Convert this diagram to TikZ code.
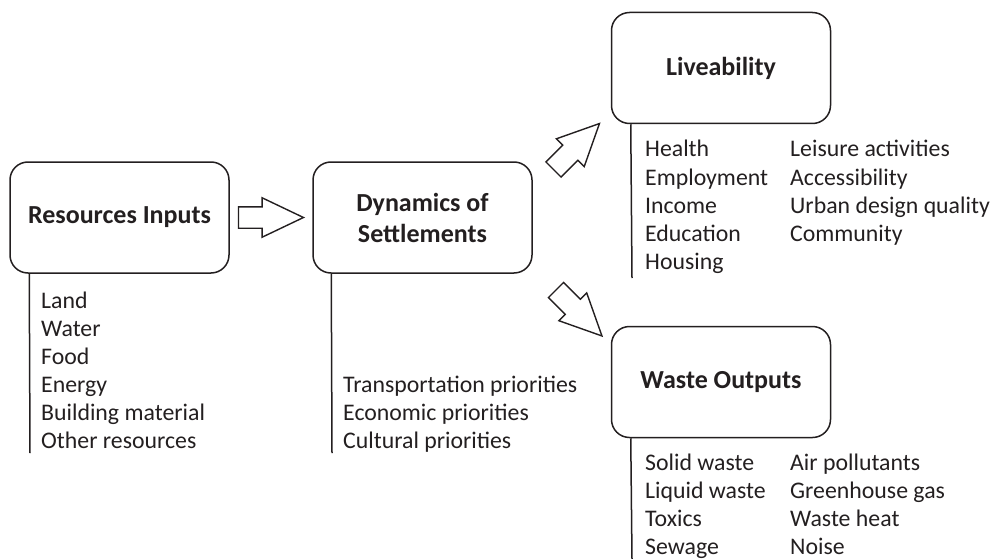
\documentclass[tikz,border=0pt]{standalone}
\usepackage{fontspec}
\setmainfont{Carlito}
\usetikzlibrary{shapes.arrows,calc}
\definecolor{ink}{HTML}{231F20}
\tikzset{
  box/.style={draw=ink, line width=1.5pt, rounded corners=18pt,
    minimum width=219pt, minimum height=111pt, align=center, text=ink,
    font=\bfseries\fontsize{26}{31}\selectfont},
  item/.style={anchor=base west, inner sep=0pt, text=ink,
    font=\fontsize{23.8}{28}\selectfont},
  fatarrow/.style={single arrow, draw=ink, line width=1.4pt, anchor=tail,
    inner xsep=0pt, inner ysep=10pt, minimum height=65pt, minimum width=38pt,
    single arrow head extend=9pt, single arrow tip angle=51},
  bar/.style={draw=ink, line width=1.5pt}
}
\begin{document}
\begin{tikzpicture}[x=1pt,y=1pt]
        \useasboundingbox (0,0) rectangle (995,-559);
        %% the four boxes
        \node[box] (res) at (119.5,-217.5) {Resources Inputs};
        \node[box] (dyn) at (422.5,-217.5) {Dynamics of\\Settlements};
        \node[box] (liv) at (721,-68) {Liveability};
        \node[box] (waste) at (721,-382) {Waste Outputs};
        %% block arrows between the boxes
        \node[fatarrow] (toDyn) at ([xshift=8pt]res.east) {};
        \node[fatarrow, rotate=45] (toLiv) at (553,-170) {};
        \node[fatarrow, rotate=-45] (toWaste) at (555.5,-289.5) {};
        %% bars below each box
        \draw[bar] ([xshift=20pt]res.south west) -- (30,-453);
        \draw[bar] ([xshift=19pt]dyn.south west) -- (332,-453);
        \draw[bar] ([xshift=20pt]liv.south west) -- (632,-278);
        \draw[bar] ([xshift=20pt]waste.south west) -- (632,-559);
        %% lists
        \foreach \t [count=\i] in {Land,Water,Food,Energy,Building material,Other resources}
            \node[item] (res-\i) at (41,{-308-28*(\i-1)}) {\t};
        \foreach \t [count=\i] in {Transportation priorities,Economic priorities,Cultural priorities}
            \node[item] (dyn-\i) at (343,{-392-28*(\i-1)}) {\t};
        \foreach \t [count=\i] in {Health,Employment,Income,Education,Housing}
            \node[item] (liv-a\i) at (645,{-157-28.2*(\i-1)}) {\t};
        \foreach \t [count=\i] in {Leisure activities,Accessibility,Urban design quality,Community}
            \node[item] (liv-b\i) at (790,{-157-28.2*(\i-1)}) {\t};
        \foreach \t [count=\i] in {Solid waste,Liquid waste,Toxics,Sewage}
            \node[item] (waste-a\i) at (645,{-470-28*(\i-1)}) {\t};
        \foreach \t [count=\i] in {Air pollutants,Greenhouse gas,Waste heat,Noise}
            \node[item] (waste-b\i) at (790,{-470-28*(\i-1)}) {\t};
    \end{tikzpicture}
\end{document}
